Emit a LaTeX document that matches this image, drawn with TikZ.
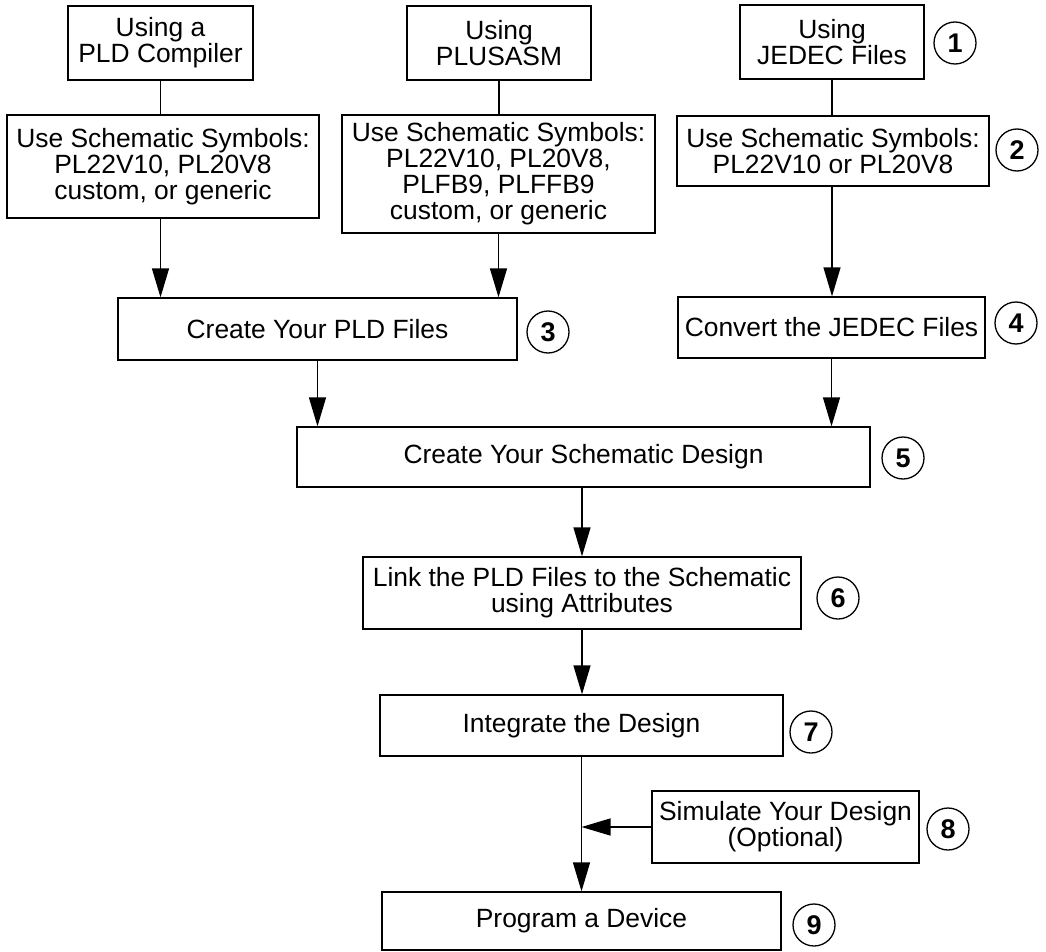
\documentclass[tikz,border=0pt]{standalone}
\usepackage{fontspec}
\setmainfont{Liberation Sans}
\usetikzlibrary{arrows.meta}
\tikzset{
  box/.style={draw, line width=1.3pt, inner sep=0pt, align=center, font=\fontsize{26.4}{26}\selectfont},
  numc/.style={draw, circle, line width=1.3pt, minimum size=42pt, inner sep=0pt, font=\bfseries\fontsize{27}{27}\selectfont},
  conn/.style={line width=1.3pt},
  arr/.style={line width=1.3pt, -{Triangle[length=29pt,width=17pt]}}
}
\begin{document}
\begin{tikzpicture}[x=1pt,y=-1pt]
\useasboundingbox (0,0) rectangle (1046,952);
% top row
\node[box, minimum width=185pt, minimum height=74pt] (A) at (160.5,43) {Using a\\PLD Compiler};
\node[box, minimum width=184pt, minimum height=74pt] (C) at (499,43) {Using\\PLUSASM};
\node[box, minimum width=184pt, minimum height=74pt] (E) at (832,42) {Using\\JEDEC Files};
% symbols row
\node[box, minimum width=312pt, minimum height=103pt] (B) at (163,166.5) {Use Schematic Symbols:\\PL22V10, PL20V8\\custom, or generic};
\node[box, minimum width=313pt, minimum height=118pt] (D) at (498.5,174) {Use Schematic Symbols:\\PL22V10, PL20V8,\\PLFB9, PLFFB9\\custom, or generic};
\node[box, minimum width=312pt, minimum height=70pt] (F) at (833,151) {Use Schematic Symbols:\\PL22V10 or PL20V8};
% files row
\node[box, minimum width=399pt, minimum height=62pt] (H) at (317.5,329) {Create Your PLD Files};
\node[box, minimum width=307pt, minimum height=61pt] (G) at (831.5,327.5) {Convert the JEDEC Files};
% central column
\node[box, minimum width=573pt, minimum height=60pt] (I) at (583.5,457) {Create Your Schematic Design};
\node[box, minimum width=438pt, minimum height=72pt] (J) at (582,593) {Link the PLD Files to the Schematic\\using Attributes};
\node[box, minimum width=403pt, minimum height=61pt] (K) at (581.5,725.5) {Integrate the Design};
\node[box, minimum width=267pt, minimum height=72pt] (S) at (785.5,827) {Simulate Your Design\\(Optional)};
\node[box, minimum width=399pt, minimum height=58pt] (L) at (581.5,921) {Program a Device};
% step numbers
\node[numc] (n1) at (955,43) {1};
\node[numc] (n2) at (1017,150) {2};
\node[numc] (n3) at (548,332) {3};
\node[numc] (n4) at (1016,323) {4};
\node[numc] (n5) at (903,458) {5};
\node[numc] (n6) at (838,598) {6};
\node[numc] (n7) at (811,732) {7};
\node[numc] (n8) at (948,829) {8};
\node[numc] (n9) at (814,925) {9};
% connectors
\draw[conn] (A.south) -- (A.south |- B.north);
\draw[conn] (C.south) -- (C.south |- D.north);
\draw[conn] (E.south) -- (E.south |- F.north);
\draw[arr] (A.south |- B.south) -- (A.south |- H.north);
\draw[arr] (D.south) -- (D.south |- H.north);
\draw[arr] (E.south |- F.south) -- (E.south |- G.north);
\draw[arr] (H.south) -- (H.south |- I.north);
\draw[arr] (G.south) -- (G.south |- I.north);
\draw[arr] (J.north |- I.south) -- (J.north);
\draw[arr] (J.south) -- (J.south |- K.north);
\draw[arr] (K.south) -- (L.north);
\draw[arr] (S.west) -- (S.west -| K.south);
\end{tikzpicture}
\end{document}
